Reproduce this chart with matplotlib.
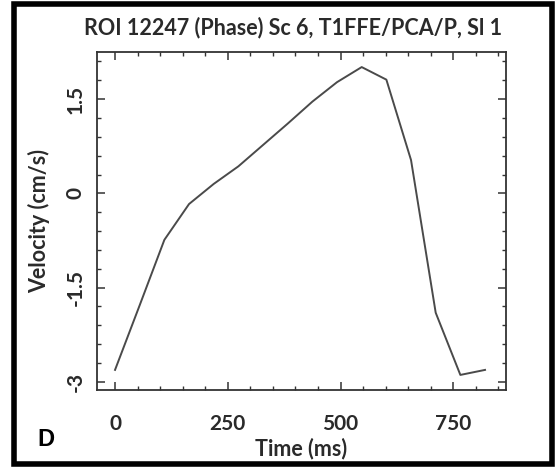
import matplotlib
matplotlib.use("Agg")
import matplotlib.pyplot as plt
from matplotlib.patches import Rectangle
from matplotlib.ticker import MultipleLocator

# Data
time_ms = [0, 54.7, 109.4, 164.1, 218.8, 273.5, 328.2, 382.9, 437.6, 492.3,
           547.0, 601.7, 656.4, 711.1, 765.8, 820.5]
velocity = [-2.81, -1.78, -0.74, -0.17, 0.15, 0.43, 0.77, 1.11, 1.46, 1.77,
            2.01, 1.81, 0.53, -1.90, -2.89, -2.81]
x_ticks = [0, 250, 500, 750]
y_ticks = [-3, -1.5, 0, 1.5]
y_tick_labels = ["-3", "-1.5", "0", "1.5"]

title = "ROI 12247 (Phase) Sc 6, T1FFE/PCA/P, Sl 1"
xlabel = "Time (ms)"
ylabel = "Velocity (cm/s)"
panel = "D"

plt.rcParams['font.family'] = ['Lato', 'DejaVu Sans']
txt = '#2a2a2a'

fig = plt.figure(figsize=(5.56, 4.69), dpi=100)
fig.patch.set_facecolor('white')
ax = fig.add_axes([97/556, 1-390/469, (506-97)/556, (390-52)/469])

ax.plot(time_ms, velocity, color='#4a4a4a', lw=1.4)
ax.set_xlim(-40, 867)
ax.set_ylim(-3.13, 2.25)

ax.set_xticks(x_ticks)
ax.set_xticklabels([str(v) for v in x_ticks])
ax.set_yticks(y_ticks)
ax.set_yticklabels(y_tick_labels, rotation=90, va='center')
ax.xaxis.set_minor_locator(MultipleLocator(50))
ax.yaxis.set_minor_locator(MultipleLocator(0.3))
ax.tick_params(which='major', direction='in', length=6, width=1.1, color='#333333',
               top=True, right=True, labelsize=15, labelcolor=txt, pad=8)
ax.tick_params(axis='x', which='major', pad=17)
ax.tick_params(which='minor', direction='in', length=3, width=1.0, color='#333333',
               top=True, right=True)
for lab in ax.get_xticklabels() + ax.get_yticklabels():
    lab.set_fontweight('bold')
for s in ax.spines.values():
    s.set_color('#333333')
    s.set_linewidth(1.3)

ax.set_xlabel(xlabel, fontsize=15.5, fontweight='bold', color=txt, labelpad=3)
ax.set_ylabel(ylabel, fontsize=15.5, fontweight='bold', color=txt, labelpad=11)
fig.text(293/556, 1-28/469, title, ha='center', va='center', fontsize=15.5,
         fontweight='bold', color=txt)

fig.text(37/556, 1-439/469, panel, ha='left', va='center', fontsize=17,
         fontweight='bold', color='black', family=['Liberation Sans', 'DejaVu Sans'])

# outer black frame
fig.patches.append(Rectangle((14/556, 5.5/469), (552-14)/556, (464.5-5.5)/469,
                             transform=fig.transFigure, fill=False,
                             edgecolor='black', linewidth=4.0))

fig.savefig('out.png', dpi=100, facecolor='white')
